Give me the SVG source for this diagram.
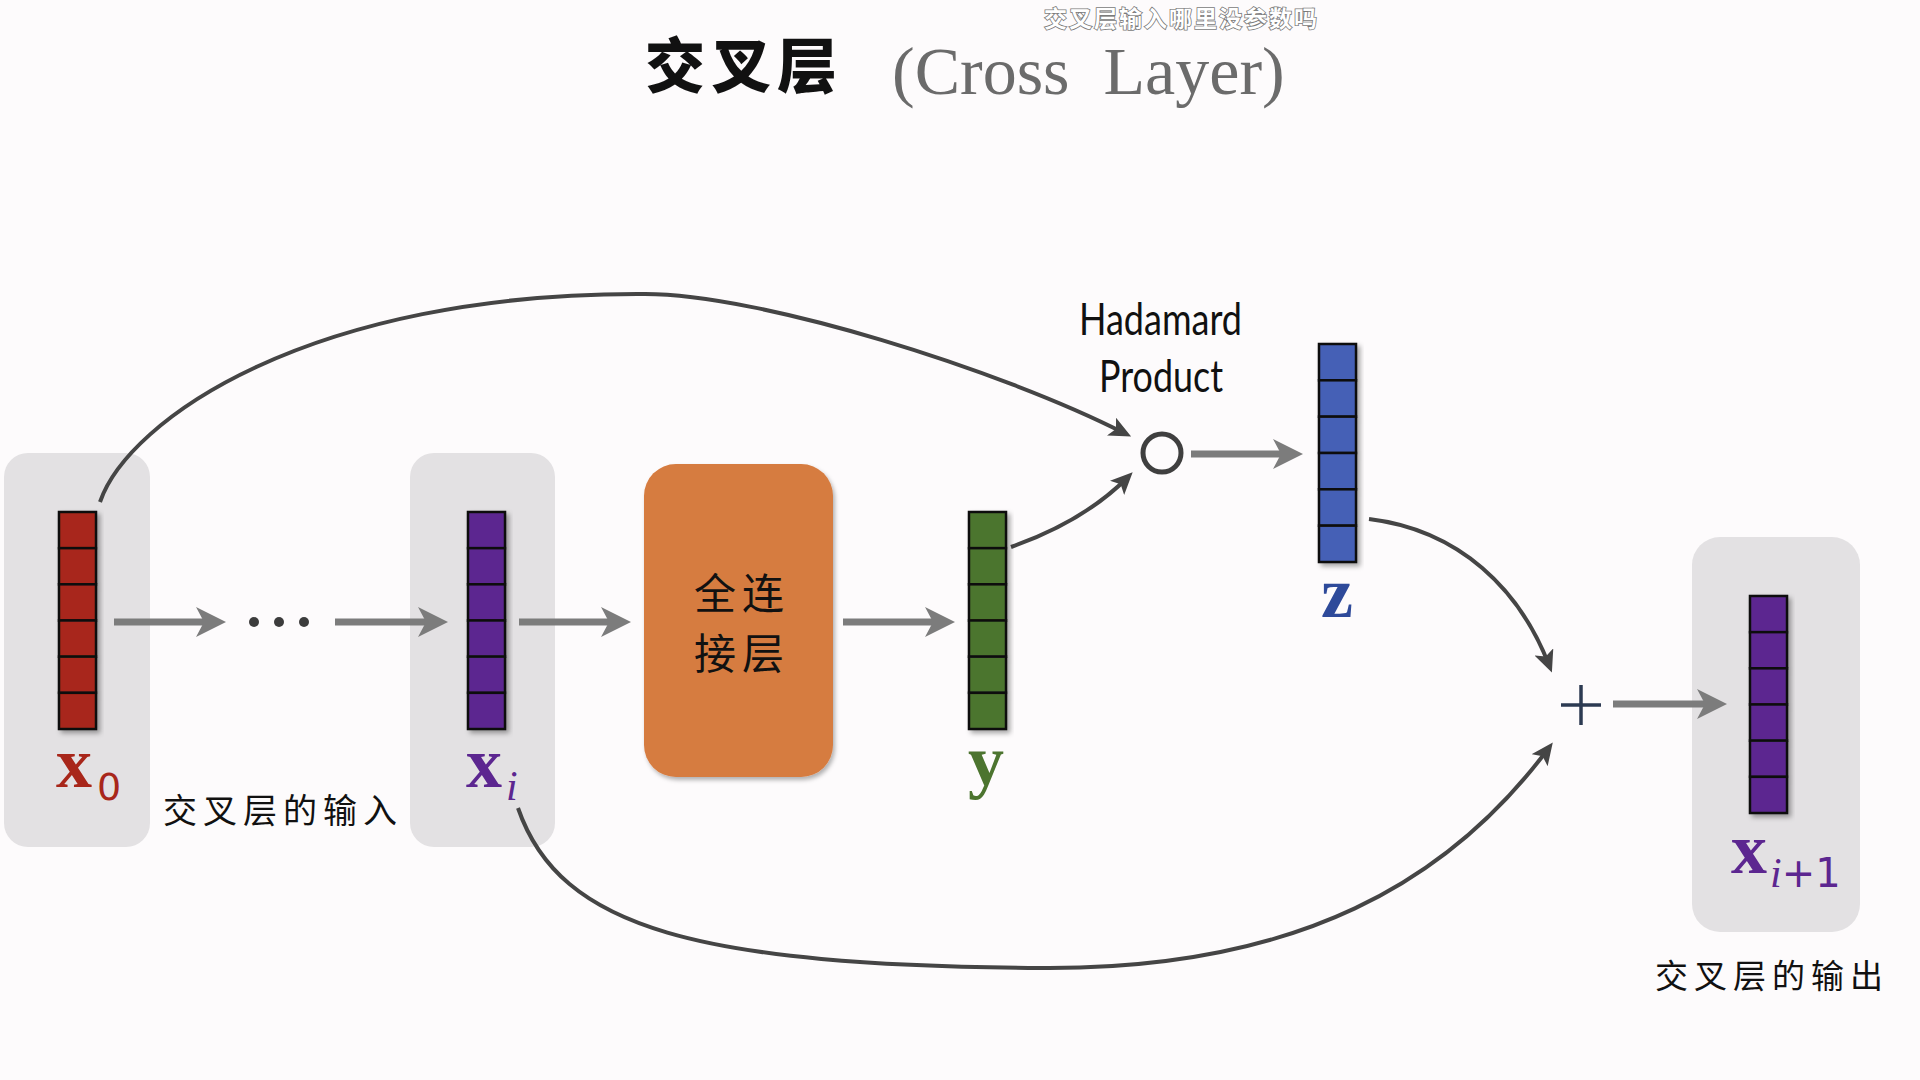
<svg xmlns="http://www.w3.org/2000/svg" width="1920" height="1080" viewBox="0 0 1920 1080">
<defs>
<filter id="sh" x="-20%" y="-20%" width="140%" height="140%"><feDropShadow dx="3" dy="3" stdDeviation="2.5" flood-color="#000" flood-opacity="0.35"/></filter>
<filter id="sh2" x="-10%" y="-10%" width="120%" height="120%"><feDropShadow dx="2" dy="3" stdDeviation="2" flood-color="#000" flood-opacity="0.3"/></filter>
<marker id="big" viewBox="0 0 30 30" markerUnits="userSpaceOnUse" markerWidth="30" markerHeight="30" refX="18" refY="15" orient="auto"><path d="M0,0 L30,15 L0,30 L8,15 Z" fill="#7c7c7c"/></marker>
<marker id="small" viewBox="0 0 22 20" markerUnits="userSpaceOnUse" markerWidth="22" markerHeight="20" refX="14" refY="10" orient="auto"><path d="M0,0 L22,10 L0,20 L5,10 Z" fill="#454545"/></marker>
</defs>
<style>
.bg{fill:#e3e1e3}
.cell{stroke:#111;stroke-width:2.5}
.st{fill:none;stroke:#7c7c7c;stroke-width:7;marker-end:url(#big)}
.cv{fill:none;stroke:#454545;stroke-width:4;marker-end:url(#small)}
.cjk{font-family:"Noto Sans CJK SC",sans-serif;fill:#111}
.wm{font-family:"Noto Sans CJK SC",sans-serif;fill:#fff;stroke:#7a7a7a;stroke-width:1.6;paint-order:stroke;font-weight:bold}
.var{font-family:"Liberation Serif",serif;font-weight:bold}
.sub{font-family:"DejaVu Sans",sans-serif}
.it{font-family:"Liberation Serif",serif;font-style:italic}
.lat{font-family:Lato,"Liberation Sans",sans-serif;fill:#111}
</style>
<rect width="1920" height="1080" fill="#fdfbfc"/>

<g id="title">
<text x="645" y="88" class="cjk" font-size="60" font-weight="900" letter-spacing="6">交叉层</text>
<text x="892" y="94" font-family="Liberation Serif,serif" font-size="68" fill="#6b6b6b" xml:space="preserve">(Cross  Layer)</text>
<text x="1044" y="27" class="wm" font-size="23" letter-spacing="2">交叉层输入哪里没参数吗</text>
</g>

<g id="box-x0"><rect class="bg" x="4" y="453" width="146" height="394" rx="24"/></g>
<g id="box-xi"><rect class="bg" x="410" y="453" width="145" height="394" rx="24"/></g>
<g id="box-xi1"><rect class="bg" x="1692" y="537" width="168" height="395" rx="28"/></g>

<g id="connectors">
<path class="st" d="M114,622 H214"/>
<path class="st" d="M335,622 H436"/>
<path class="st" d="M519,622 H619"/>
<path class="st" d="M843,622 H943"/>
<path class="st" d="M1191,454 H1291"/>
<path class="st" d="M1613,704 H1715"/>
<path class="cv" d="M100,502 C128,420 310,292 645,294 C760,294 1000,370 1124,433"/>
<path class="cv" d="M1011,547 C1065,528 1100,505 1127,478"/>
<path class="cv" d="M1369,519 C1460,530 1520,590 1549,665"/>
<path class="cv" d="M518,808 C560,930 700,965 1041,968 C1300,970 1450,880 1548,749"/>
</g>

<g id="dots" fill="#3c3c3c"><circle cx="254" cy="622" r="5"/><circle cx="279" cy="622" r="5"/><circle cx="304" cy="622" r="5"/></g>

<g id="x0" filter="url(#sh)" fill="#a8261a">
<rect class="cell" x="59" y="512" width="37" height="36.17"/><rect class="cell" x="59" y="548.17" width="37" height="36.17"/><rect class="cell" x="59" y="584.33" width="37" height="36.17"/><rect class="cell" x="59" y="620.5" width="37" height="36.17"/><rect class="cell" x="59" y="656.67" width="37" height="36.17"/><rect class="cell" x="59" y="692.83" width="37" height="36.17"/>
</g>
<g id="x0-label" fill="#a8261a"><text x="56" y="787" class="var" font-size="72">x</text><text x="97" y="800" class="sub" font-size="38">0</text></g>

<g id="xi" filter="url(#sh)" fill="#5c2690">
<rect class="cell" x="468" y="512" width="37" height="36.17"/><rect class="cell" x="468" y="548.17" width="37" height="36.17"/><rect class="cell" x="468" y="584.33" width="37" height="36.17"/><rect class="cell" x="468" y="620.5" width="37" height="36.17"/><rect class="cell" x="468" y="656.67" width="37" height="36.17"/><rect class="cell" x="468" y="692.83" width="37" height="36.17"/>
</g>
<g id="xi-label" fill="#5c2690"><text x="466" y="787" class="var" font-size="72">x</text><text x="506" y="800" class="it" font-size="42">i</text></g>

<g id="fc"><rect x="644" y="464" width="189" height="313" rx="32" fill="#d67b3f" filter="url(#sh2)"/>
<text x="694" y="609" class="cjk" font-size="42" letter-spacing="6">全连</text>
<text x="694" y="669" class="cjk" font-size="42" letter-spacing="6">接层</text></g>

<g id="y" filter="url(#sh)" fill="#4c742f">
<rect class="cell" x="969" y="512" width="37" height="36.17"/><rect class="cell" x="969" y="548.17" width="37" height="36.17"/><rect class="cell" x="969" y="584.33" width="37" height="36.17"/><rect class="cell" x="969" y="620.5" width="37" height="36.17"/><rect class="cell" x="969" y="656.67" width="37" height="36.17"/><rect class="cell" x="969" y="692.83" width="37" height="36.17"/>
</g>
<g id="y-label" fill="#4c742f"><text x="968" y="785" class="var" font-size="72">y</text></g>

<g id="hadamard">
<text x="1079" y="335" class="lat" font-size="44" textLength="163" lengthAdjust="spacingAndGlyphs">Hadamard</text>
<text x="1099" y="392" class="lat" font-size="44" textLength="124" lengthAdjust="spacingAndGlyphs">Product</text>
<circle cx="1162" cy="453" r="19" fill="#fdfbfc" stroke="#3f3f3f" stroke-width="5"/>
</g>

<g id="z" filter="url(#sh)" fill="#4461b6">
<rect class="cell" x="1319" y="344" width="37" height="36.33"/><rect class="cell" x="1319" y="380.33" width="37" height="36.33"/><rect class="cell" x="1319" y="416.67" width="37" height="36.33"/><rect class="cell" x="1319" y="453" width="37" height="36.33"/><rect class="cell" x="1319" y="489.33" width="37" height="36.33"/><rect class="cell" x="1319" y="525.67" width="37" height="36.33"/>
</g>
<g id="z-label" fill="#2e4a9a"><text x="1321" y="617" class="var" font-size="72">z</text></g>

<g id="plus" stroke="#2c3a52" stroke-width="3.5"><line x1="1561" y1="705" x2="1601" y2="705"/><line x1="1581" y1="685" x2="1581" y2="725"/></g>

<g id="xi1" filter="url(#sh)" fill="#5c2690">
<rect class="cell" x="1750" y="596" width="37" height="36.17"/><rect class="cell" x="1750" y="632.17" width="37" height="36.17"/><rect class="cell" x="1750" y="668.33" width="37" height="36.17"/><rect class="cell" x="1750" y="704.5" width="37" height="36.17"/><rect class="cell" x="1750" y="740.67" width="37" height="36.17"/><rect class="cell" x="1750" y="776.83" width="37" height="36.17"/>
</g>
<g id="xi1-label" fill="#5c2690"><text x="1731" y="873" class="var" font-size="72">x</text><text x="1770" y="887" font-size="42"><tspan class="it">i</tspan><tspan class="sub" font-size="40">+1</tspan></text></g>

<g id="labels">
<text x="163" y="823" class="cjk" font-size="34" letter-spacing="6">交叉层的输入</text>
<text x="1655" y="988" class="cjk" font-size="33" letter-spacing="6">交叉层的输出</text>
</g>
</svg>
